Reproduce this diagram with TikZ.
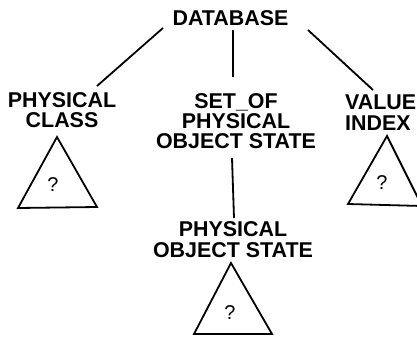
\documentclass[tikz,border=0pt]{standalone}
\usepackage{fontspec}
\setmainfont{Liberation Sans}
\begin{document}
\begin{tikzpicture}[x=1bp,y=-1bp,
  lbl/.style={font=\fontsize{21.5}{20}\selectfont\bfseries, inner sep=0pt, align=center},
  lblw/.style={font=\fontsize{21.5}{21}\selectfont\bfseries},
  qm/.style={font=\fontsize{20}{20}\selectfont, inner sep=0pt},
  conn/.style={line width=1.8bp},
  tri/.style={line width=1.8bp, line join=miter}]
\useasboundingbox (0,0) rectangle (417,337);
\begin{scope}
\clip (0,0) rectangle (417,337);
% labels
\node[lbl, anchor=north] (db) at (230.5,10) {DATABASE};
\node[lbl, anchor=north] (pc) at (62,92) {PHYSICAL\\CLASS};
\node[lbl, anchor=north] (set) at (236,93) {SET\_OF\\PHYSICAL\\OBJECT STATE};
\node[lbl, lblw, anchor=north west, align=left] (vi) at (345,95) {VALUE\\INDEX};
\node[lbl, lblw, anchor=north] (pos) at (233,221) {PHYSICAL\\OBJECT STATE};
% connector ends
\coordinate (db-l) at (163,28);
\coordinate (db-m) at (233,30);
\coordinate (db-r) at (308,30);
\coordinate (pc-t) at (97,86);
\coordinate (set-t) at (233,77);
\coordinate (vi-t) at (373,90);
\coordinate (set-b) at (232,158);
\coordinate (pos-t) at (234,218);
\draw[conn] (db-l) -- (pc-t);
\draw[conn] (db-m) -- (set-t);
\draw[conn] (db-r) -- (vi-t);
\draw[conn] (set-b) -- (pos-t);
% triangles
\coordinate (t1a) at (57,137);
\coordinate (t1b) at (18,208);
\coordinate (t1c) at (97,207);
\draw[tri] (t1a) -- (t1b) -- (t1c) -- cycle;
\node[qm] (q1) at (53,185) {?};
\coordinate (t2a) at (387,136);
\coordinate (t2b) at (348,204);
\coordinate (t2c) at (422,206);
\draw[tri] (t2a) -- (t2b) -- (t2c) -- cycle;
\node[qm] (q2) at (382,183) {?};
\coordinate (t3a) at (231,263);
\coordinate (t3b) at (194,334);
\coordinate (t3c) at (272,334);
\draw[tri] (t3a) -- (t3b) -- (t3c) -- cycle;
\draw[line width=2.8bp] (t3b) -- (t3c);
\node[qm] (q3) at (230,313) {?};
\end{scope}
\end{tikzpicture}
\end{document}
